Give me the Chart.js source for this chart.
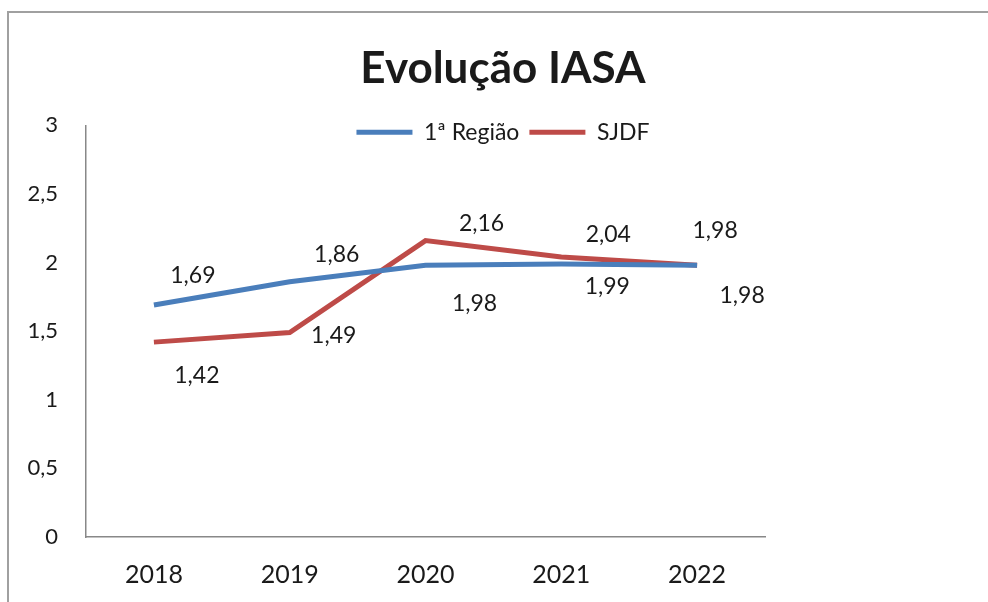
<!DOCTYPE html>
<html>
<head>
<meta charset="utf-8">
<script src="https://cdn.jsdelivr.net/npm/chart.js@4"></script>
<style>
  body { margin: 0; background: #fff; }
  #wrap { position: relative; width: 988px; height: 602px; }
  #frame { position: absolute; left: 7px; top: 11px; right: 0; bottom: 0;
           border-left: 2px solid #a0a0a0; border-top: 2px solid #a0a0a0; }
  canvas { position: absolute; left: 0; top: 0; }
</style>
</head>
<body>
<div id="wrap">
  <div id="frame"></div>
  <canvas id="iasaChart" width="988" height="602"></canvas>
</div>
<script>
// data
const years = ["2018", "2019", "2020", "2021", "2022"];
const regiao1 = [1.69, 1.86, 1.98, 1.99, 1.98];
const sjdf = [1.42, 1.49, 2.16, 2.04, 1.98];
const yTicks = [0, 0.5, 1, 1.5, 2, 2.5, 3];

const FONT = "Lato, 'Open Sans', sans-serif";
const TEXT = "#1a1a1a";

// where each value label sits relative to its point (Excel style)
const labelOffsets = {
  0: [[39, -29], [47, -27], [49, 38], [46, 23], [45, 30]],
  1: [[43, 33], [44, 3], [56, -17], [47, -22], [18, -35]]
};

const valueLabels = {
  id: "valueLabels",
  afterDatasetsDraw(chart) {
    const ctx = chart.ctx;
    ctx.save();
    ctx.font = "23px " + FONT;
    ctx.fillStyle = TEXT;
    ctx.textAlign = "center";
    ctx.textBaseline = "middle";
    chart.data.datasets.forEach((ds, i) => {
      chart.getDatasetMeta(i).data.forEach((pt, j) => {
        const off = labelOffsets[i][j];
        const txt = ds.data[j].toFixed(2).replace(".", ",");
        ctx.fillText(txt, pt.x + off[0], pt.y + off[1]);
      });
    });
    ctx.restore();
  }
};

// legend sits on top of the plot area, like in Excel:
// reserve less room than it needs, then give it back for drawing
const legendOverlap = {
  id: "legendOverlap",
  beforeInit(chart) {
    const fit = chart.legend.fit;
    chart.legend.fit = function () {
      fit.bind(chart.legend)();
      this._fullHeight = this.height;
      this.height = 14.5;
    };
  },
  afterLayout(chart) {
    const lg = chart.legend;
    if (lg && lg._fullHeight) {
      lg.height = lg._fullHeight;
      lg.bottom = lg.top + lg._fullHeight;
    }
  }
};

new Chart(document.getElementById("iasaChart"), {
  type: "line",
  data: {
    labels: years,
    datasets: [
      {
        label: "1ª Região",
        data: regiao1,
        borderColor: "#4a7ebb",
        backgroundColor: "#4a7ebb",
        borderWidth: 5,
        pointRadius: 0,
        tension: 0
      },
      {
        label: "SJDF",
        data: sjdf,
        borderColor: "#be4b48",
        backgroundColor: "#be4b48",
        borderWidth: 5,
        pointRadius: 0,
        tension: 0
      }
    ]
  },
  options: {
    responsive: false,
    animation: false,
    layout: { padding: { left: 18, right: 0, top: 0, bottom: 0 } },
    plugins: {
      title: {
        display: true,
        text: "Evolução IASA",
        color: TEXT,
        font: { family: FONT, size: 44, weight: "bold" },
        padding: { top: 42, bottom: 16 }
      },
      legend: {
        display: true,
        labels: {
          color: TEXT,
          font: { family: FONT, size: 23 },
          usePointStyle: true,
          pointStyle: "line",
          pointStyleWidth: 56,
          padding: 10
        }
      },
      tooltip: { enabled: false }
    },
    scales: {
      x: {
        offset: true,
        grid: { display: false, drawTicks: false, offset: true },
        border: { display: true, color: "#888", width: 1.5 },
        ticks: { color: TEXT, font: { family: FONT, size: 25 }, padding: 23 },
        afterFit(s) { s.height = 65; }
      },
      y: {
        min: 0,
        max: 3,
        grid: { display: false, drawTicks: false },
        border: { display: true, color: "#888", width: 1.5 },
        afterBuildTicks(s) { s.ticks = yTicks.map(v => ({ value: v })); },
        ticks: {
          color: TEXT,
          font: { family: FONT, size: 22 },
          padding: 28,
          callback: v => String(v).replace(".", ",")
        },
        afterFit(s) { s.width = 68; }
      },
      yRight: {
        position: "right",
        min: 0,
        max: 3,
        grid: { display: false, drawTicks: false },
        border: { display: false },
        ticks: { display: false },
        afterFit(s) { s.width = 223; }
      }
    }
  },
  plugins: [valueLabels, legendOverlap]
});
</script>
</body>
</html>
